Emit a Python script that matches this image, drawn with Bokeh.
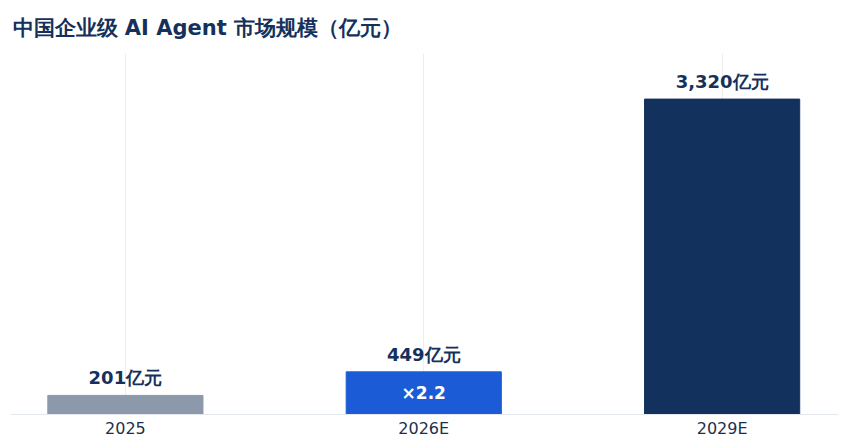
from bokeh.plotting import figure
from bokeh.models import ColumnDataSource, Range1d, FixedTicker
from bokeh.core.properties import value
from bokeh.embed import file_html
from bokeh.resources import INLINE

# data
years = ["2025", "2026E", "2029E"]
market = [201, 449, 3320]          # 亿元
bar_colors = ["#8c99ab", "#1b5cd6", "#12315c"]

NAVY = "#15315b"
FONT = "DejaVu Sans"

xs = list(range(len(years)))
src = ColumnDataSource(dict(
    x=xs,
    top=market,
    color=bar_colors,
    label=[f"{v:,}亿元" for v in market],
))

p = figure(width=847, height=440, output_backend="svg", toolbar_location=None,
           x_range=Range1d(-0.385, 2.39), y_range=Range1d(0, 3800),
           title="中国企业级 AI Agent 市场规模（亿元）",
           min_border_left=10, min_border_right=9,
           min_border_top=53, min_border_bottom=26)

p.title.text_font = FONT
p.title.text_font_size = "21px"
p.title.text_color = NAVY
p.title.offset = 2
p.title.standoff = 27

p.vbar(x="x", top="top", width=0.52, color="color", source=src)

p.text(x="x", y="top", text="label", source=src, y_offset=-7,
       text_align="center", text_baseline="bottom",
       text_font=value(FONT), text_font_size="18px",
       text_font_style="bold", text_color=NAVY)

# growth multiple inside the 2026E bar
ratio = market[1] / market[0]
p.text(x=[xs[1]], y=[market[1] / 2], text=[f"×{ratio:.1f}"],
       text_align="center", text_baseline="middle",
       text_font=value(FONT), text_font_size="17px",
       text_font_style="bold", text_color="white")

p.yaxis.visible = False
p.ygrid.visible = False
p.outline_line_color = None

p.xaxis.ticker = FixedTicker(ticks=xs)
p.xaxis.major_label_overrides = {i: y for i, y in enumerate(years)}
p.xaxis.major_tick_line_color = None
p.xaxis.minor_tick_line_color = None
p.xaxis.axis_line_color = "#e3e8ef"
p.xaxis.major_label_text_font = FONT
p.xaxis.major_label_text_font_size = "16px"
p.xaxis.major_label_text_color = "#1e2f4d"
p.xaxis.major_label_standoff = -2

p.xgrid.ticker = FixedTicker(ticks=xs)
p.xgrid.grid_line_color = "#eeeeee"

open("out.html", "w").write(file_html(p, INLINE))
